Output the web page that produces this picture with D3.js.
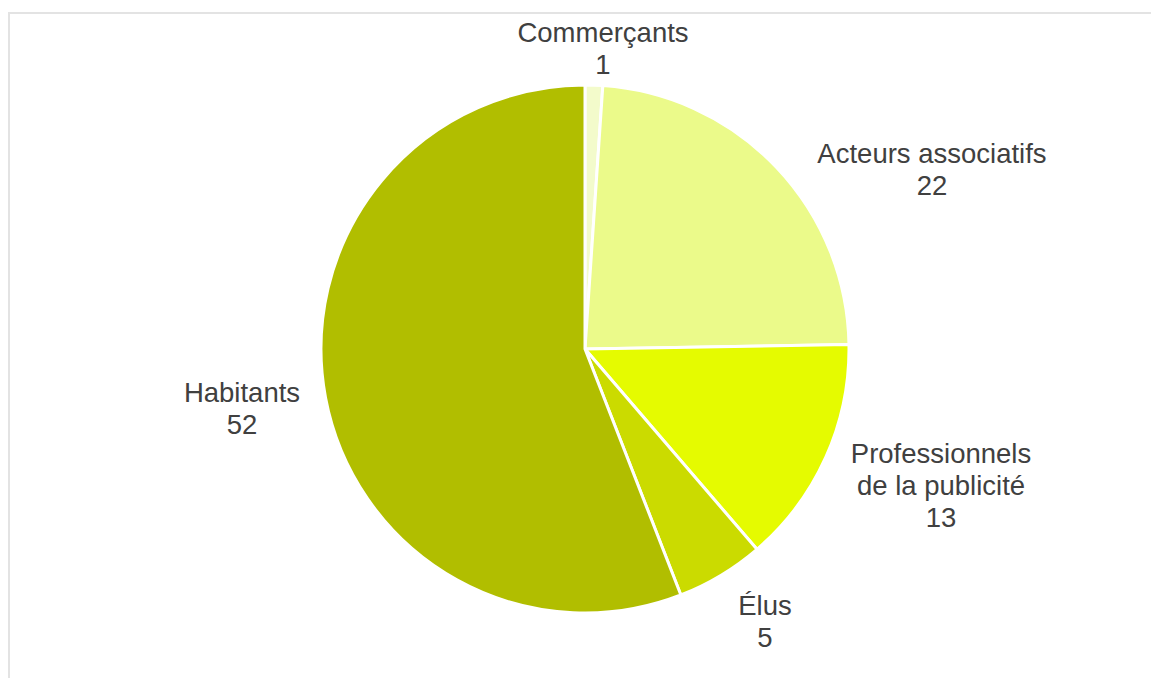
<!DOCTYPE html>
<html>
<head>
<meta charset="utf-8">
<script src="https://cdn.jsdelivr.net/npm/d3@7"></script>
<style>
  html, body { margin: 0; padding: 0; background: #fff; }
  svg { display: block; }
</style>
</head>
<body>
<svg id="chart"></svg>
<script>
const categories = ["Commerçants", "Acteurs associatifs", "Professionnels de la publicité", "Élus", "Habitants"];
const values = [1, 22, 13, 5, 52];
const colors = ["#f3fbcb", "#ebfa8a", "#e5fb00", "#cbdb00", "#b1be00"];
// label lines (text as in the chart)
const labelLines = [["Commerçants"], ["Acteurs associatifs"], ["Professionnels", "de la publicité"], ["Élus"], ["Habitants"]];

const width = 1151, height = 678;
const cx = 585, cy = 349, radius = 264;
const fontSize = 27.5, lineH = 32;

// label block anchors relative to the pie centre (first baseline)
const labelAt = [[18, -307], [347, -186], [356, 114], [180, 266], [-343, 53]];

const svg = d3.select("#chart").attr("width", width).attr("height", height);

// chart frame (only top/left visible in the picture)
svg.append("rect")
    .attr("x", 9).attr("y", 13)
    .attr("width", 1200).attr("height", 700)
    .attr("fill", "none")
    .attr("stroke", "#e3e3e3")
    .attr("stroke-width", 2);

const data = categories.map((c, i) => ({ name: c, value: values[i], lines: labelLines[i], color: colors[i], pos: labelAt[i] }));

const pie = d3.pie().sort(null).value(d => d.value);
const arc = d3.arc().innerRadius(0).outerRadius(radius);

const g = svg.append("g").attr("transform", `translate(${cx}, ${cy})`);

g.selectAll("path")
    .data(pie(data))
    .join("path")
    .attr("d", arc)
    .attr("fill", d => d.data.color)
    .attr("stroke", "#fff")
    .attr("stroke-width", 3)
    .attr("stroke-linejoin", "round");

const labels = g.selectAll("text.lbl")
    .data(data)
    .join("text")
    .attr("class", "lbl")
    .attr("text-anchor", "middle")
    .attr("font-family", "'Liberation Sans', Arial, sans-serif")
    .attr("font-size", fontSize)
    .attr("fill", "#404040");

labels.each(function(d) {
    const t = d3.select(this);
    const rows = [...d.lines, String(d.value)];
    rows.forEach((r, i) => {
        t.append("tspan")
            .attr("x", d.pos[0])
            .attr("y", d.pos[1] + i * lineH)
            .text(r);
    });
});
</script>
</body>
</html>
